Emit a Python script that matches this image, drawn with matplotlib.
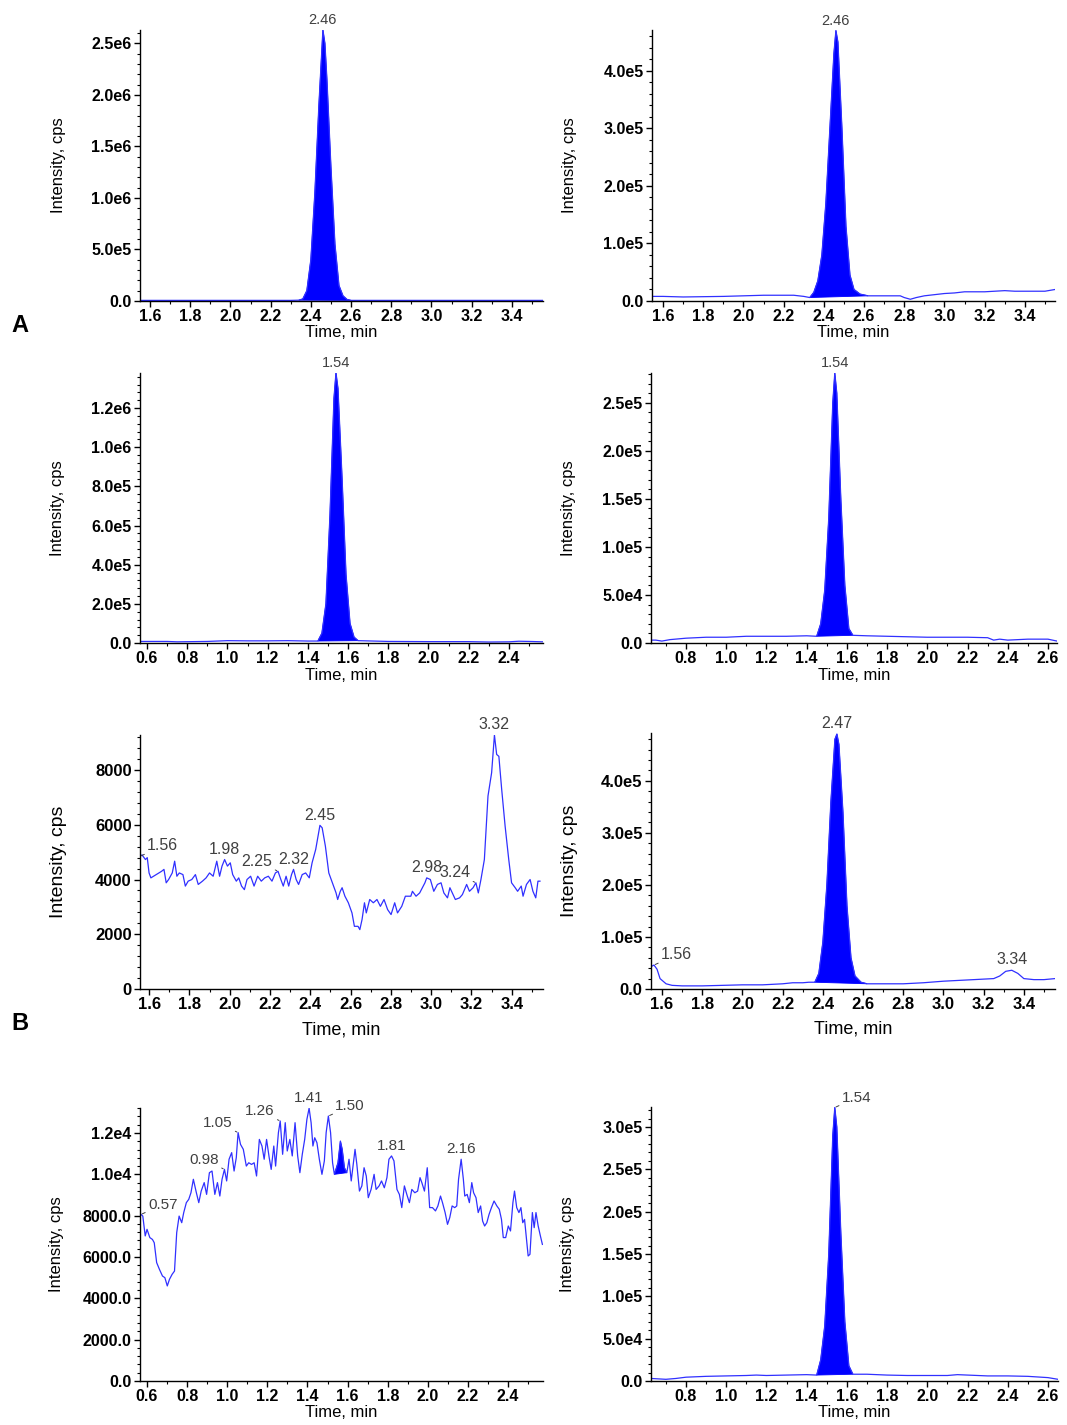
import matplotlib
matplotlib.use('Agg')
import matplotlib.pyplot as plt
from matplotlib.ticker import AutoMinorLocator, FixedLocator

plt.rcParams['font.family'] = ['Liberation Sans', 'DejaVu Sans']

LINE = '#3030ff'
FILL = '#0000ff'
GRAY = '#404040'

# ---------------- data ----------------
# Panel A, row 1 left
a1_t = [1.55, 1.8, 2.1, 2.30, 2.34, 2.36, 2.38, 2.40, 2.42, 2.44, 2.46, 2.47, 2.48, 2.50,
        2.52, 2.54, 2.56, 2.58, 2.60, 2.8, 3.1, 3.555]
a1_y = [6e3, 6e3, 6e3, 6e3, 8e3, 2e4, 1.0e5, 4.0e5, 1.05e6, 1.9e6, 2.63e6, 2.5e6, 2.15e6, 1.3e6,
        5.5e5, 1.5e5, 5e4, 1.5e4, 6e3, 6e3, 6e3, 6e3]
# Panel A, row 1 right
a2_t = [1.545, 1.6, 1.7, 1.8, 1.9, 2.0, 2.1, 2.2, 2.25, 2.30, 2.33, 2.35, 2.37, 2.39, 2.41, 2.43,
        2.45, 2.46, 2.47, 2.49, 2.51, 2.53, 2.55, 2.58, 2.62, 2.7, 2.78, 2.80, 2.83, 2.86, 2.9,
        3.0, 3.05, 3.1, 3.2, 3.3, 3.35, 3.4, 3.5, 3.55]
a2_y = [8e3, 8e3, 7e3, 7.5e3, 8e3, 9e3, 1.0e4, 1.0e4, 1.0e4, 8e3, 6e3, 1.5e4, 3.5e4, 8e4, 1.7e5,
        3.0e5, 4.3e5, 4.7e5, 4.5e5, 3.0e5, 1.3e5, 4.5e4, 2.0e4, 1.2e4, 9e3, 9e3, 9e3, 6e3, 3e3,
        6e3, 9e3, 1.3e4, 1.4e4, 1.6e4, 1.6e4, 1.8e4, 1.7e4, 1.7e4, 1.7e4, 2.0e4]
# Panel A, row 2 left
a3_t = [0.565, 0.7, 0.75, 0.9, 1.0, 1.1, 1.2, 1.3, 1.4, 1.45, 1.47, 1.49, 1.51, 1.53, 1.54, 1.55,
        1.57, 1.59, 1.61, 1.63, 1.65, 1.8, 2.0, 2.2, 2.3, 2.4, 2.45, 2.5, 2.57]
a3_y = [8e3, 8e3, 6e3, 8e3, 1.2e4, 1.1e4, 1.1e4, 1.2e4, 1.0e4, 1.0e4, 5e4, 2.0e5, 6.5e5, 1.25e6,
        1.38e6, 1.3e6, 8.5e5, 3.5e5, 1.0e5, 3e4, 1.2e4, 8e3, 7e3, 7e3, 5e3, 6e3, 9e3, 8e3, 6e3]
# Panel A, row 2 right
a4_t = [0.626, 0.65, 0.68, 0.72, 0.8, 0.9, 1.0, 1.1, 1.2, 1.3, 1.4, 1.45, 1.47, 1.49, 1.51, 1.53,
        1.54, 1.55, 1.57, 1.59, 1.61, 1.63, 1.7, 1.8, 1.9, 2.0, 2.1, 2.2, 2.3, 2.33, 2.36, 2.4,
        2.45, 2.5, 2.6, 2.645]
a4_y = [3e3, 3e3, 2e3, 3.5e3, 5e3, 6e3, 6e3, 7e3, 7e3, 7e3, 7.5e3, 7e3, 2.0e4, 5.5e4, 1.3e5,
        2.5e5, 2.81e5, 2.6e5, 1.5e5, 6.0e4, 1.5e4, 8e3, 7.5e3, 7e3, 6.5e3, 6e3, 6e3, 6e3, 5.5e3,
        3e3, 4e3, 3e3, 3.5e3, 4e3, 4e3, 2e3]
# Panel B, row 3 left (noisy trace)
b1_t = [1.556, 1.565, 1.582, 1.591, 1.600, 1.609, 1.635, 1.662, 1.674, 1.685, 1.697, 1.715, 1.727,
        1.738, 1.750, 1.768, 1.780, 1.794, 1.812, 1.830, 1.844, 1.865, 1.883, 1.900, 1.918, 1.936,
        1.950, 1.962, 1.975, 1.989, 2.003, 2.015, 2.033, 2.045, 2.059, 2.073, 2.086, 2.104, 2.121,
        2.139, 2.157, 2.174, 2.192, 2.210, 2.227, 2.240, 2.254, 2.266, 2.280, 2.293, 2.307, 2.317,
        2.330, 2.342, 2.360, 2.377, 2.395, 2.409, 2.427, 2.448, 2.459, 2.475, 2.492, 2.510, 2.528,
        2.536, 2.549, 2.558, 2.572, 2.589, 2.607, 2.619, 2.637, 2.646, 2.657, 2.669, 2.678, 2.695,
        2.713, 2.731, 2.748, 2.766, 2.784, 2.801, 2.819, 2.833, 2.854, 2.872, 2.899, 2.907, 2.925,
        2.943, 2.969, 2.978, 2.996, 3.013, 3.031, 3.049, 3.063, 3.081, 3.093, 3.105, 3.120, 3.141,
        3.155, 3.176, 3.190, 3.208, 3.222, 3.234, 3.247, 3.264, 3.282, 3.300, 3.314, 3.325, 3.336,
        3.350, 3.367, 3.385, 3.399, 3.417, 3.429, 3.447, 3.456, 3.473, 3.491, 3.505, 3.519, 3.530,
        3.540]
b1_y = [4850, 4900, 4730, 4800, 4240, 4060, 4180, 4300, 4370, 3880, 4000, 4240, 4670,
        4120, 4240, 4180, 3760, 3940, 4000, 4180, 3820, 3940, 4060, 4240, 4120, 4670,
        4120, 4490, 4730, 4490, 4610, 4180, 3940, 4060, 3760, 3630, 4000, 4120, 3760,
        4120, 3940, 4060, 4120, 3940, 4240, 4300, 4000, 3760, 4120, 3760, 4180, 4370,
        4000, 3820, 4180, 4240, 4060, 4610, 5100, 5980, 5890, 5220, 4240, 3880, 3510,
        3270, 3570, 3700, 3390, 3150, 2780, 2290, 2290, 2170, 2540, 3150, 2780, 3270,
        3150, 3270, 3020, 3270, 2900, 2720, 3150, 2780, 3020, 3390, 3390, 3570, 3390,
        3510, 3880, 4060, 4000, 3570, 3820, 3880, 3510, 3330, 3700, 3510, 3270, 3330,
        3450, 3820, 3570, 3700, 3880, 3510, 4000, 4730, 7050, 7900, 9280, 8570, 8500,
        7290, 5950, 4730, 3880, 3700, 3570, 3760, 3390, 3820, 4000, 3570, 3330, 3940,
        3940]
# Panel B, row 3 right
b3_t = [1.545, 1.56, 1.575, 1.59, 1.62, 1.65, 1.7, 1.8, 1.9, 2.0, 2.1, 2.2, 2.25, 2.30, 2.33,
        2.36, 2.38, 2.40, 2.42, 2.44, 2.46, 2.47, 2.48, 2.50, 2.52, 2.54, 2.56, 2.59, 2.62, 2.7,
        2.8, 2.9, 3.0, 3.1, 3.2, 3.25, 3.28, 3.31, 3.34, 3.37, 3.4, 3.45, 3.5, 3.555]
b3_y = [4.3e4, 4.6e4, 3.8e4, 2.0e4, 1.0e4, 7e3, 6e3, 6e3, 7e3, 8e3, 8e3, 1.0e4, 1.2e4, 1.2e4,
        1.3e4, 1.3e4, 3.0e4, 9.0e4, 2.0e5, 3.6e5, 4.8e5, 4.9e5, 4.7e5, 3.4e5, 1.6e5, 6.0e4,
        2.5e4, 1.3e4, 1.0e4, 1.0e4, 1.0e4, 1.2e4, 1.5e4, 1.7e4, 1.9e4, 2.0e4, 2.5e4, 3.4e4,
        3.6e4, 3.0e4, 2.0e4, 1.8e4, 1.8e4, 2.0e4]
# Panel B, row 4 left (noisy trace)
b2_t = [0.570, 0.579, 0.591, 0.600, 0.614, 0.627, 0.636, 0.648, 0.662, 0.677, 0.689, 0.701, 0.712,
        0.725, 0.737, 0.748, 0.760, 0.773, 0.783, 0.796, 0.808, 0.819, 0.831, 0.846, 0.858, 0.870,
        0.885, 0.897, 0.911, 0.924, 0.938, 0.951, 0.963, 0.974, 0.986, 0.997, 1.009, 1.022, 1.034,
        1.045, 1.054, 1.066, 1.080, 1.095, 1.107, 1.121, 1.134, 1.146, 1.160, 1.173, 1.184, 1.196,
        1.209, 1.219, 1.232, 1.241, 1.255, 1.264, 1.276, 1.289, 1.299, 1.312, 1.324, 1.338, 1.351,
        1.362, 1.374, 1.386, 1.397, 1.408, 1.418, 1.427, 1.436, 1.447, 1.459, 1.472, 1.484, 1.493,
        1.504, 1.515, 1.525, 1.534, 1.552, 1.564, 1.573, 1.584, 1.596, 1.607, 1.618, 1.628, 1.637,
        1.646, 1.659, 1.671, 1.682, 1.693, 1.703, 1.717, 1.732, 1.742, 1.757, 1.769, 1.783, 1.796,
        1.806, 1.819, 1.831, 1.846, 1.858, 1.870, 1.883, 1.895, 1.908, 1.920, 1.935, 1.949, 1.961,
        1.970, 1.983, 1.997, 2.009, 2.023, 2.038, 2.050, 2.063, 2.073, 2.086, 2.098, 2.109, 2.121,
        2.134, 2.144, 2.153, 2.166, 2.177, 2.184, 2.196, 2.207, 2.219, 2.228, 2.240, 2.251, 2.263,
        2.273, 2.283, 2.294, 2.305, 2.317, 2.330, 2.344, 2.356, 2.367, 2.376, 2.388, 2.401, 2.412,
        2.424, 2.432, 2.443, 2.454, 2.464, 2.473, 2.482, 2.490, 2.500, 2.509, 2.521, 2.530, 2.539,
        2.550, 2.561, 2.571]
b2_y = [8060, 7980, 7020, 7340, 6940, 6850, 6690, 5730, 5400, 5080, 5000, 4600, 4920,
        5160, 5320, 7180, 7980, 7660, 8150, 8630, 8790, 9110, 9760, 9110, 8630, 9190,
        9600, 9030, 10080, 10160, 9030, 9600, 8950, 9760, 10240, 9680, 10730, 11050, 10160,
        10810, 12020, 11450, 11210, 10400, 10560, 10480, 10560, 9920, 11690, 11370, 10730, 11690,
        10810, 10240, 11370, 10400, 12020, 12580, 10970, 12500, 11130, 11690, 10890, 12500, 10890,
        10080, 10970, 11690, 12660, 13200, 12500, 11370, 11770, 11530, 10730, 10000, 10650, 12020,
        12820, 12020, 10560, 10000, 10560, 11610, 11210, 10320, 10080, 10730, 9680, 10480, 11210,
        10480, 9190, 9440, 10320, 9920, 8870, 9270, 10000, 9270, 9440, 9680, 9350, 9840,
        10730, 10890, 10650, 9270, 9030, 8390, 9440, 9030, 8630, 9270, 9110, 9190, 9840,
        9600, 9190, 10320, 8390, 8390, 8230, 8470, 8950, 8630, 8150, 7580, 7900, 8470,
        8390, 8470, 9760, 10730, 9760, 8950, 9030, 8630, 9600, 9110, 8870, 8150, 8470,
        7740, 7500, 7660, 8060, 8390, 8710, 8470, 8310, 7820, 6940, 6940, 7500, 7260,
        8630, 9190, 8390, 8150, 8390, 7660, 7820, 7020, 6050, 6130, 8150, 7420, 8150,
        7500, 7020, 6610]
# Panel B, row 4 right
b4_t = [0.626, 0.7, 0.75, 0.8, 0.9, 1.0, 1.1, 1.15, 1.2, 1.3, 1.4, 1.45, 1.47, 1.49, 1.51, 1.53,
        1.54, 1.55, 1.57, 1.59, 1.61, 1.63, 1.7, 1.8, 1.9, 2.0, 2.1, 2.15, 2.2, 2.3, 2.4, 2.5,
        2.6, 2.65]
b4_y = [3e3, 2e3, 3e3, 4.5e3, 5.5e3, 6e3, 6.5e3, 7e3, 6.5e3, 7e3, 7.5e3, 7e3, 2.5e4, 6.5e4,
        1.5e5, 2.9e5, 3.23e5, 3.0e5, 1.75e5, 7.0e4, 1.8e4, 8e3, 8e3, 7e3, 6.5e3, 6.5e3, 6.5e3,
        7.5e3, 7e3, 6e3, 6e3, 5.5e3, 4e3, 2e3]

# filled (integrated) peak windows, minutes
a1_fill = [(2.34, 2.60)]
a2_fill = [(2.33, 2.62)]
a3_fill = [(1.45, 1.65)]
a4_fill = [(1.45, 1.63)]
b1_fill = []
b3_fill = [(2.36, 2.62)]
b2_fill = [(1.534, 1.596)]
b4_fill = [(1.45, 1.63)]

# x tick values
xt_late = [1.6, 1.8, 2.0, 2.2, 2.4, 2.6, 2.8, 3.0, 3.2, 3.4]
xt_early = [0.6, 0.8, 1.0, 1.2, 1.4, 1.6, 1.8, 2.0, 2.2, 2.4]
xt_mid = [0.8, 1.0, 1.2, 1.4, 1.6, 1.8, 2.0, 2.2, 2.4, 2.6]

# y ticks and labels
a1_yt = [0, 5e5, 1e6, 1.5e6, 2e6, 2.5e6]
a1_yl = ['0.0', '5.0e5', '1.0e6', '1.5e6', '2.0e6', '2.5e6']
a2_yt = [0, 1e5, 2e5, 3e5, 4e5]
a2_yl = ['0.0', '1.0e5', '2.0e5', '3.0e5', '4.0e5']
a3_yt = [0, 2e5, 4e5, 6e5, 8e5, 1e6, 1.2e6]
a3_yl = ['0.0', '2.0e5', '4.0e5', '6.0e5', '8.0e5', '1.0e6', '1.2e6']
a4_yt = [0, 5e4, 1e5, 1.5e5, 2e5, 2.5e5]
a4_yl = ['0.0', '5.0e4', '1.0e5', '1.5e5', '2.0e5', '2.5e5']
b1_yt = [0, 2000, 4000, 6000, 8000]
b1_yl = ['0', '2000', '4000', '6000', '8000']
b3_yt = [0, 1e5, 2e5, 3e5, 4e5]
b3_yl = ['0.0', '1.0e5', '2.0e5', '3.0e5', '4.0e5']
b2_yt = [0, 2000, 4000, 6000, 8000, 10000, 12000]
b2_yl = ['0.0', '2000.0', '4000.0', '6000.0', '8000.0', '1.0e4', '1.2e4']
b4_yt = [0, 5e4, 1e5, 1.5e5, 2e5, 2.5e5, 3e5]
b4_yl = ['0.0', '5.0e4', '1.0e5', '1.5e5', '2.0e5', '2.5e5', '3.0e5']

# peak labels: (text, time, intensity)
a1_pk = [('2.46', 2.46, 2.63e6)]
a2_pk = [('2.46', 2.46, 4.7e5)]
a3_pk = [('1.54', 1.54, 1.38e6)]
a4_pk = [('1.54', 1.54, 2.81e5)]
b1_pk = [('1.56', 1.556, 4850), ('1.98', 1.975, 4730), ('2.25', 2.240, 4300),
         ('2.32', 2.317, 4370), ('2.45', 2.448, 5980), ('2.98', 2.978, 4060),
         ('3.24', 3.222, 3880), ('3.32', 3.314, 9280)]
b3_pk = [('1.56', 1.56, 4.6e4), ('2.47', 2.47, 4.9e5), ('3.34', 3.34, 3.6e4)]
b2_pk = [('0.57', 0.570, 8060), ('0.98', 0.986, 10240), ('1.05', 1.054, 12020),
         ('1.26', 1.264, 12580), ('1.41', 1.408, 13200), ('1.50', 1.504, 12820),
         ('1.81', 1.819, 10890), ('2.16', 2.166, 10730)]
b4_pk = [('1.54', 1.54, 3.23e5)]

# ---------------- figure ----------------
W, H = 1067, 1425
fig = plt.figure(figsize=(W / 100, H / 100), dpi=100)

# label placement styles: key -> (dx pt, dy pt, ha, leader)
STYLE = {'top': (0, 2, 'center', False),
         'right': (5, 2, 'left', True),
         'left': (-4, 2, 'right', True)}


def panel(box, t, y, fills, xlim, ylim, xt, yt, yl, peaks, places,
          tick_fs=11.5, ylab_fs=12, xlab_fs=12, pk_fs=10.5, ylab_x=-0.185, xlab_y=-0.09):
    l, tp, r, b = box
    ax = fig.add_axes([l / W, 1 - b / H, (r - l) / W, (b - tp) / H])
    ax.plot(t, y, color=LINE, lw=0.9)
    for a, bb in fills:
        sel = [(ti, yi) for ti, yi in zip(t, y) if a <= ti <= bb]
        ax.fill([s[0] for s in sel], [s[1] for s in sel], color=FILL, lw=0.6)
    ax.set_xlim(*xlim)
    ax.set_ylim(*ylim)
    ax.xaxis.set_major_locator(FixedLocator(xt))
    ax.set_xticklabels([f'{v:.1f}' for v in xt])
    ax.yaxis.set_major_locator(FixedLocator(yt))
    ax.set_yticklabels(yl)
    ax.xaxis.set_minor_locator(AutoMinorLocator(2))
    ax.yaxis.set_minor_locator(AutoMinorLocator(5))
    for s in ('top', 'right'):
        ax.spines[s].set_visible(False)
    for s in ('left', 'bottom'):
        ax.spines[s].set_linewidth(1.0)
    ax.tick_params(which='major', direction='out', length=4, width=1, pad=2,
                   labelsize=tick_fs)
    ax.tick_params(which='minor', direction='out', length=2, width=0.8)
    for lab in ax.get_xticklabels() + ax.get_yticklabels():
        lab.set_fontweight('bold')
    ax.set_ylabel('Intensity, cps', fontsize=ylab_fs)
    ax.set_xlabel('Time, min', fontsize=xlab_fs)
    ax.yaxis.set_label_coords(ylab_x, 0.5)
    ax.xaxis.set_label_coords(0.5, xlab_y)
    for (txt, px, py), pl in zip(peaks, places):
        dx, dy, ha, lead = STYLE[pl]
        kw = {}
        if lead:
            kw['arrowprops'] = dict(arrowstyle='-', color=GRAY, lw=0.7,
                                    shrinkA=0, shrinkB=1)
        ax.annotate(txt, xy=(px, py), xytext=(dx, dy), textcoords='offset points',
                    ha=ha, va='bottom', fontsize=pk_fs, color=GRAY,
                    annotation_clip=False, **kw)
    return ax


panel((140, 30, 543, 301), a1_t, a1_y, a1_fill, (1.55, 3.555), (0, 2.63e6),
      xt_late, a1_yt, a1_yl, a1_pk, ['top'], ylab_x=-0.184, xlab_y=-0.089)
panel((652, 30, 1055, 301), a2_t, a2_y, a2_fill, (1.545, 3.55), (0, 4.71e5),
      xt_late, a2_yt, a2_yl, a2_pk, ['top'], ylab_x=-0.186, xlab_y=-0.089)
panel((140, 373, 543, 643), a3_t, a3_y, a3_fill, (0.565, 2.57), (0, 1.379e6),
      xt_early, a3_yt, a3_yl, a3_pk, ['top'], ylab_x=-0.186, xlab_y=-0.093)
panel((651, 373, 1057, 643), a4_t, a4_y, a4_fill, (0.626, 2.645), (0, 2.81e5),
      xt_mid, a4_yt, a4_yl, a4_pk, ['top'], ylab_x=-0.185, xlab_y=-0.093)
panel((140, 735, 543, 989), b1_t, b1_y, b1_fill, (1.555, 3.555), (0, 9280),
      xt_late, b1_yt, b1_yl, b1_pk,
      ['right', 'top', 'left', 'top', 'top', 'top', 'left', 'top'],
      tick_fs=12, ylab_fs=14, xlab_fs=13, pk_fs=11.5, ylab_x=-0.181, xlab_y=-0.126)
panel((651, 733, 1055, 989), b3_t, b3_y, b3_fill, (1.545, 3.555), (0, 4.92e5),
      xt_late, b3_yt, b3_yl, b3_pk, ['right', 'top', 'top'],
      tick_fs=12, ylab_fs=14, xlab_fs=13, pk_fs=11.5, ylab_x=-0.181, xlab_y=-0.125)
panel((140, 1108, 543, 1381), b2_t, b2_y, b2_fill, (0.565, 2.574), (0, 13210),
      xt_early, b2_yt, b2_yl, b2_pk,
      ['right', 'left', 'left', 'left', 'top', 'right', 'top', 'top'],
      pk_fs=11, ylab_x=-0.189, xlab_y=-0.088)
panel((651, 1107, 1058, 1381), b4_t, b4_y, b4_fill, (0.626, 2.65), (0, 3.236e5),
      xt_mid, b4_yt, b4_yl, b4_pk, ['right'],
      pk_fs=11, ylab_x=-0.187, xlab_y=-0.088)

fig.text(20 / W, 1 - 325 / H, 'A', ha='center', va='center', fontsize=17, fontweight='bold')
fig.text(20 / W, 1 - 1023 / H, 'B', ha='center', va='center', fontsize=17, fontweight='bold')

fig.savefig('out.png', dpi=100)
